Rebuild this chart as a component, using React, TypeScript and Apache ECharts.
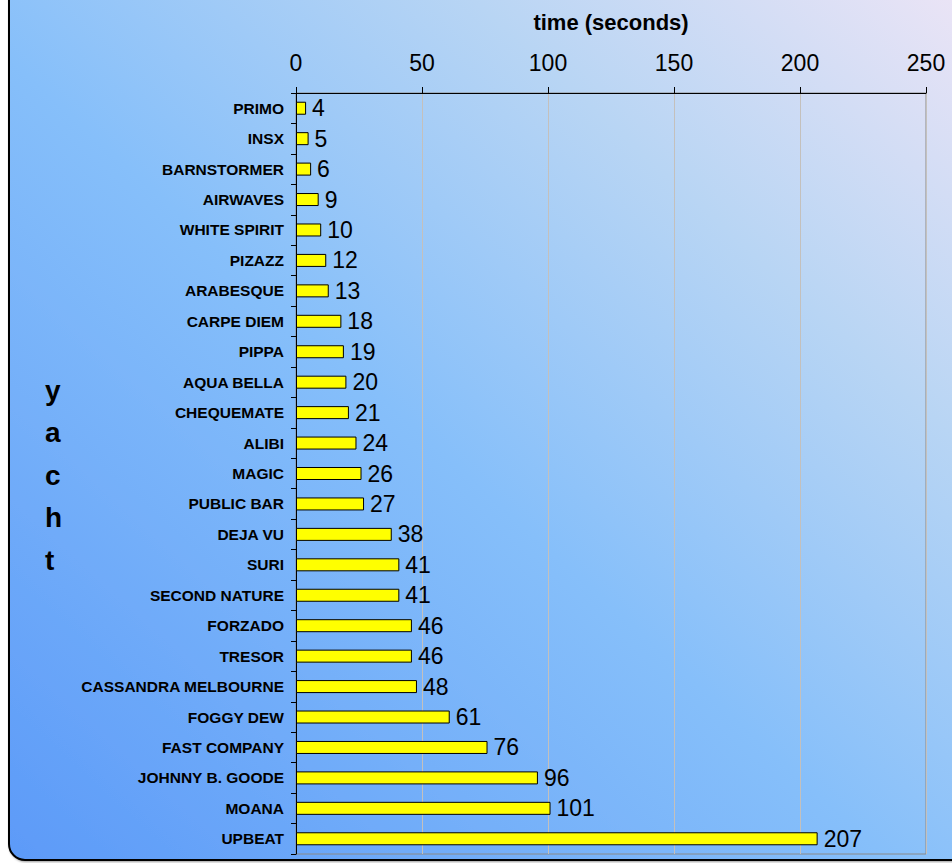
import React, { useEffect, useRef } from "react";
import * as echarts from "echarts";

const categories = [
  "PRIMO", "INSX", "BARNSTORMER", "AIRWAVES", "WHITE SPIRIT", "PIZAZZ", "ARABESQUE",
  "CARPE DIEM", "PIPPA", "AQUA BELLA", "CHEQUEMATE", "ALIBI", "MAGIC", "PUBLIC BAR",
  "DEJA VU", "SURI", "SECOND NATURE", "FORZADO", "TRESOR", "CASSANDRA MELBOURNE",
  "FOGGY DEW", "FAST COMPANY", "JOHNNY B. GOODE", "MOANA", "UPBEAT",
];
const times = [4, 5, 6, 9, 10, 12, 13, 18, 19, 20, 21, 24, 26, 27, 38, 41, 41, 46, 46, 48, 61, 76, 96, 101, 207];
const xTitle = "time (seconds)";
const yTitle = "yacht";

const FONT = "Liberation Sans, Arial, Helvetica, sans-serif";

export default function App() {
  const ref = useRef<HTMLDivElement>(null);
  useEffect(() => {
    if (!ref.current) return;
    const chart = echarts.init(ref.current, undefined, { renderer: "svg" });
    chart.setOption({
      animation: false,
      graphic: [
        {
          type: "rect",
          z: -10,
          silent: true,
          shape: { x: 9, y: -30, width: 980, height: 890, r: [0, 0, 0, 16] },
          style: {
            fill: new echarts.graphic.LinearGradient(0, 1, 1, 0, [
              { offset: 0, color: "#5c9af8" },
              { offset: 0.45, color: "#86bffa" },
              { offset: 0.72, color: "#b8d5f4" },
              { offset: 1, color: "#f1e6f6" },
            ]),
            stroke: "#000",
            lineWidth: 2,
            shadowBlur: 2,
            shadowColor: "rgba(0,0,0,0.4)",
            shadowOffsetX: 1,
            shadowOffsetY: 1,
          },
        },
        {
          type: "text",
          left: 45,
          top: 369,
          silent: true,
          style: {
            text: yTitle.split("").join("\n"),
            font: `bold 28px ${FONT}`,
            lineHeight: 42.5,
            fill: "#000",
            align: "center",
          },
        },
      ],
      grid: {
        left: 296,
        top: 93,
        right: 26,
        bottom: 9,
        show: true,
        borderColor: "#8a8a8a",
        borderWidth: 1,
        backgroundColor: "transparent",
      },
      xAxis: {
        type: "value",
        position: "top",
        min: 0,
        max: 250,
        interval: 50,
        name: xTitle,
        nameLocation: "middle",
        nameGap: 60,
        nameTextStyle: { fontFamily: FONT, fontWeight: "bold", fontSize: 22, color: "#000" },
        axisLine: { show: true, lineStyle: { color: "#000", width: 1 } },
        axisTick: { show: true, length: 6, inside: false, lineStyle: { color: "#000" } },
        axisLabel: { fontFamily: FONT, fontSize: 23, color: "#000", margin: 19 },
        splitLine: { show: true, lineStyle: { color: "#c4c0bc", width: 1 } },
      },
      yAxis: {
        type: "category",
        inverse: true,
        data: categories,
        axisLine: { show: true, lineStyle: { color: "#000", width: 1 } },
        axisTick: { show: true, length: 5, alignWithLabel: false, lineStyle: { color: "#000" } },
        axisLabel: { fontFamily: FONT, fontSize: 15.5, fontWeight: "bold", color: "#000", margin: 12 },
        splitLine: { show: false },
      },
      series: [
        {
          type: "bar",
          data: times,
          barWidth: 13,
          itemStyle: { color: "#ffff00", borderColor: "#000", borderWidth: 1 },
          label: {
            show: true,
            position: "right",
            distance: 6,
            fontFamily: FONT,
            fontSize: 23,
            color: "#000",
          },
        },
      ],
    });
    return () => chart.dispose();
  }, []);
  return (
    <div
      ref={ref}
      style={{ position: "fixed", left: 0, top: 0, width: 952, height: 863, background: "#fff" }}
    />
  );
}
